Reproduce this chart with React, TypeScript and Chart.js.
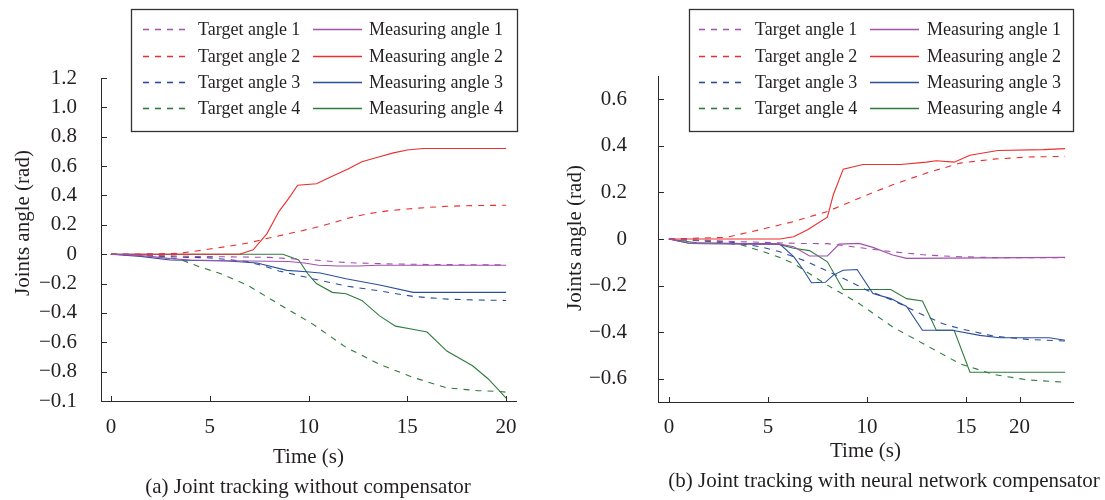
import React, { useEffect, useRef } from 'react';
import { Chart, registerables } from 'chart.js';

Chart.register(...registerables);

const SERIF = '"Liberation Serif", "Times New Roman", Times, serif';
const TEXT = '#231f20';
const AXIS = '#2a2a2a';

const PURPLE = '#a24fae';
const RED = '#ec2d2d';
const BLUE = '#2b4e9c';
const GREEN = '#2f7b3c';

const LEGEND_LABELS = [
  'Target angle 1', 'Measuring angle 1',
  'Target angle 2', 'Measuring angle 2',
  'Target angle 3', 'Measuring angle 3',
  'Target angle 4', 'Measuring angle 4',
];

// ---------- (a) Joint tracking without compensator ----------
const aXTicks = [0, 5, 10, 15, 20];
const aXTickLabels = ['0', '5', '10', '15', '20'];
const aYTicks = [-1, -0.8, -0.6, -0.4, -0.2, 0, 0.2, 0.4, 0.6, 0.8, 1.0, 1.2];
const aYTickLabels = ['\u22120.1', '\u22120.8', '\u22120.6', '\u22120.4', '\u22120.2', '0', '0.2', '0.4', '0.6', '0.8', '1.0', '1.2'];

const aTarget1Time = [0, 2, 4, 6, 8, 9, 10, 12, 14, 16, 18, 20];
const aTarget1Angle = [0, -0.008, -0.015, -0.018, -0.022, -0.03, -0.036, -0.058, -0.066, -0.07, -0.072, -0.073];
const aMeasure1Time = [0, 1, 2, 3, 4, 6, 8, 9, 9.8, 10.5, 11.5, 12.5, 13.5, 20];
const aMeasure1Angle = [0, -0.005, -0.015, -0.03, -0.04, -0.045, -0.048, -0.05, -0.06, -0.075, -0.08, -0.08, -0.075, -0.075];

const aTarget2Time = [0, 2, 3.5, 5, 6, 7, 8, 9, 10, 11, 12, 13, 14, 15, 16, 17, 18, 19, 20];
const aTarget2Angle = [0, 0.002, 0.006, 0.035, 0.055, 0.078, 0.11, 0.14, 0.17, 0.205, 0.245, 0.275, 0.295, 0.308, 0.318, 0.326, 0.33, 0.332, 0.333];
const aMeasure2Time = [0, 3, 6.5, 7.2, 7.9, 8.5, 9.0, 9.45, 10.4, 11.2, 12.0, 12.7, 13.5, 14.3, 15.0, 15.8, 20];
const aMeasure2Angle = [0, 0, 0, 0.03, 0.14, 0.29, 0.38, 0.47, 0.48, 0.53, 0.58, 0.63, 0.66, 0.69, 0.71, 0.72, 0.72];

const aTarget3Time = [0, 2, 3.5, 5, 6.9, 7.9, 8.5, 10.2, 11.9, 13.6, 15.3, 17, 18.5, 20];
const aTarget3Angle = [0, -0.01, -0.02, -0.025, -0.05, -0.087, -0.114, -0.167, -0.217, -0.25, -0.288, -0.306, -0.312, -0.315];
const aMeasure3Time = [0, 1.5, 3, 5.9, 7.4, 8.9, 9.9, 10.6, 11.9, 13.6, 15.3, 20];
const aMeasure3Angle = [0, -0.015, -0.04, -0.046, -0.06, -0.11, -0.12, -0.128, -0.167, -0.21, -0.26, -0.26];

const aTarget4Time = [0, 2, 3.5, 4.5, 5.5, 6.9, 8.5, 10.2, 11.9, 13.6, 15.3, 17, 18.6, 19.7, 20];
const aTarget4Angle = [0, -0.005, -0.035, -0.087, -0.13, -0.21, -0.34, -0.475, -0.635, -0.75, -0.84, -0.91, -0.93, -0.935, -0.94];
const aMeasure4Time = [0, 8.7, 9.5, 10, 10.4, 11.2, 11.9, 12.7, 13.6, 14.4, 15.2, 16, 17, 18.3, 19.1, 20];
const aMeasure4Angle = [0, 0, -0.04, -0.14, -0.2, -0.26, -0.27, -0.315, -0.42, -0.49, -0.51, -0.53, -0.66, -0.76, -0.85, -0.98];

// ---------- (b) Joint tracking with neural network compensator ----------
const bXTicks = [0, 5, 10, 15, 17.7];
const bXTickLabels = ['0', '5', '10', '15', '20'];
const bYTicks = [-0.6, -0.4, -0.2, 0, 0.2, 0.4, 0.6];
const bYTickLabels = ['\u22120.6', '\u22120.4', '\u22120.2', '0', '0.2', '0.4', '0.6'];

const bTarget1Time = [0, 3, 6.6, 8, 9.6, 11.3, 13, 14.7, 16.4, 20];
const bTarget1Angle = [0, -0.01, -0.019, -0.02, -0.037, -0.055, -0.069, -0.076, -0.08, -0.08];
const bMeasure1Time = [0, 1.06, 5.6, 6.3, 7.1, 8, 8.6, 9.6, 10.3, 11.3, 12, 20];
const bMeasure1Angle = [0, -0.019, -0.022, -0.033, -0.073, -0.073, -0.022, -0.019, -0.036, -0.069, -0.083, -0.079];

const bTarget2Time = [0, 2.9, 4.6, 6.3, 8, 9.6, 11.3, 13, 14.7, 16.4, 18.1, 20];
const bTarget2Angle = [0, 0.007, 0.04, 0.075, 0.118, 0.175, 0.233, 0.283, 0.326, 0.343, 0.352, 0.355];
const bMeasure2Time = [0, 5.6, 6.3, 7, 8, 8.3, 8.8, 9.8, 11.7, 13, 13.5, 14.4, 15.2, 16.6, 18.9, 20];
const bMeasure2Angle = [0, 0, 0.01, 0.04, 0.094, 0.19, 0.3, 0.32, 0.32, 0.33, 0.336, 0.33, 0.36, 0.38, 0.384, 0.388];

const bTarget3Time = [0, 3, 4.6, 5.6, 7, 7.6, 9, 10, 11.3, 12.5, 13.8, 14.7, 16.4, 18.1, 20];
const bTarget3Angle = [0, -0.012, -0.033, -0.055, -0.098, -0.122, -0.177, -0.22, -0.263, -0.313, -0.363, -0.385, -0.417, -0.431, -0.438];
const bMeasure3Time = [0, 1.06, 5.6, 6.3, 6.8, 7.2, 7.9, 8.3, 8.8, 9.5, 10.3, 11.2, 12, 12.8, 14.3, 15.7, 16.7, 19.2, 20];
const bMeasure3Angle = [0, -0.019, -0.022, -0.076, -0.134, -0.188, -0.186, -0.155, -0.134, -0.131, -0.234, -0.256, -0.29, -0.392, -0.392, -0.414, -0.424, -0.424, -0.435];

const bTarget4Time = [0, 2, 3.7, 4.6, 5.5, 6.3, 8, 9.6, 11.3, 13, 14.7, 16.4, 18.1, 20];
const bTarget4Angle = [0, -0.01, -0.026, -0.05, -0.076, -0.105, -0.198, -0.277, -0.378, -0.457, -0.536, -0.582, -0.605, -0.615];
const bMeasure4Time = [0, 1.4, 5.5, 6.3, 7.1, 8, 8.8, 11.2, 12, 12.8, 13.5, 14.4, 15.2, 20];
const bMeasure4Angle = [0, -0.016, -0.022, -0.04, -0.05, -0.098, -0.217, -0.217, -0.256, -0.266, -0.392, -0.392, -0.572, -0.572];

type Series = { t: number[]; v: number[] };
const COLORS = [PURPLE, PURPLE, RED, RED, BLUE, BLUE, GREEN, GREEN];

const seriesA: Series[] = [
  { t: aTarget1Time, v: aTarget1Angle }, { t: aMeasure1Time, v: aMeasure1Angle },
  { t: aTarget2Time, v: aTarget2Angle }, { t: aMeasure2Time, v: aMeasure2Angle },
  { t: aTarget3Time, v: aTarget3Angle }, { t: aMeasure3Time, v: aMeasure3Angle },
  { t: aTarget4Time, v: aTarget4Angle }, { t: aMeasure4Time, v: aMeasure4Angle },
];
const seriesB: Series[] = [
  { t: bTarget1Time, v: bTarget1Angle }, { t: bMeasure1Time, v: bMeasure1Angle },
  { t: bTarget2Time, v: bTarget2Angle }, { t: bMeasure2Time, v: bMeasure2Angle },
  { t: bTarget3Time, v: bTarget3Angle }, { t: bMeasure3Time, v: bMeasure3Angle },
  { t: bTarget4Time, v: bTarget4Angle }, { t: bMeasure4Time, v: bMeasure4Angle },
];

const DASH = [6, 6];

type Cfg = {
  canvasLeft: number;
  canvasWidth: number;
  area: { left: number; top: number; right: number; bottom: number };
  xRange: [number, number];
  yRange: [number, number];
  xTicks: number[];
  xTickLabels: string[];
  yTicks: number[];
  yTickLabels: string[];
  xLabelPad: number;
  yLabelPad: number;
  xTitlePad: number;
  series: Series[];
  legend: { left: number; top: number; width: number; height: number; t0: number; t1: number; tText: number; m0: number; m1: number; mText: number; row0: number; rowGap: number };
  yTitle: { x: number; y: number };
  caption: { text: string; x: number; y: number };
};

function JointChart({ cfg }: { cfg: Cfg }) {
  const ref = useRef<HTMLCanvasElement>(null);
  useEffect(() => {
    const canvas = ref.current!;
    const H = 500;
    const decor = {
      id: 'decor',
      afterDraw(chart: any) {
        const ctx = chart.ctx as CanvasRenderingContext2D;
        const xs = chart.scales.x;
        const ys = chart.scales.y;
        // inward tick marks
        ctx.save();
        ctx.strokeStyle = AXIS;
        ctx.lineWidth = 1;
        ctx.beginPath();
        xs.ticks.forEach((tk: any) => {
          const px = Math.round(xs.getPixelForValue(tk.value)) + 0.5;
          ctx.moveTo(px, xs.top);
          ctx.lineTo(px, xs.top - 5);
        });
        ys.ticks.forEach((tk: any) => {
          const py = Math.round(ys.getPixelForValue(tk.value)) + 0.5;
          ctx.moveTo(ys.right, py);
          ctx.lineTo(ys.right + 6, py);
        });
        ctx.stroke();
        ctx.restore();

        // y axis title
        ctx.save();
        ctx.fillStyle = TEXT;
        ctx.font = `21px ${SERIF}`;
        ctx.textAlign = 'center';
        ctx.textBaseline = 'middle';
        ctx.translate(cfg.yTitle.x, cfg.yTitle.y);
        ctx.rotate(-Math.PI / 2);
        ctx.fillText('Joints angle (rad)', 0, 0);
        ctx.restore();

        // caption
        ctx.save();
        ctx.fillStyle = TEXT;
        ctx.font = `21px ${SERIF}`;
        ctx.textAlign = 'center';
        ctx.textBaseline = 'middle';
        ctx.fillText(cfg.caption.text, cfg.caption.x, cfg.caption.y);
        ctx.restore();

        // legend box
        const L = cfg.legend;
        ctx.save();
        ctx.fillStyle = '#ffffff';
        ctx.fillRect(L.left, L.top, L.width, L.height);
        ctx.strokeStyle = '#333333';
        ctx.lineWidth = 1.3;
        ctx.strokeRect(L.left + 0.5, L.top + 0.5, L.width, L.height);
        ctx.font = `18px ${SERIF}`;
        ctx.textBaseline = 'middle';
        ctx.textAlign = 'left';
        const ds = chart.data.datasets;
        for (let r = 0; r < 4; r++) {
          const y = Math.round(L.top + L.row0 + r * L.rowGap) + 0.5;
          const tgt = ds[2 * r];
          const mea = ds[2 * r + 1];
          ctx.lineWidth = 1.6;
          ctx.strokeStyle = tgt.borderColor;
          ctx.setLineDash(DASH);
          ctx.beginPath();
          ctx.moveTo(L.left + L.t0, y);
          ctx.lineTo(L.left + L.t1, y);
          ctx.stroke();
          ctx.setLineDash([]);
          ctx.strokeStyle = mea.borderColor;
          ctx.beginPath();
          ctx.moveTo(L.left + L.m0, y);
          ctx.lineTo(L.left + L.m1, y);
          ctx.stroke();
          ctx.fillStyle = TEXT;
          ctx.fillText(tgt.label, L.left + L.tText, y + 1);
          ctx.fillText(mea.label, L.left + L.mText, y + 1);
        }
        ctx.restore();
      },
    };

    const datasets = cfg.series.map((s, i) => ({
      label: LEGEND_LABELS[i],
      data: s.t.map((t, j) => ({ x: t, y: s.v[j] })),
      borderColor: COLORS[i],
      backgroundColor: COLORS[i],
      borderWidth: 1.1,
      borderDash: i % 2 === 0 ? DASH : [],
      pointRadius: 0,
      tension: 0,
      fill: false,
    }));

    const tickFont = { family: SERIF, size: 21 };
    const chart = new Chart(canvas, {
      type: 'line',
      data: { datasets },
      options: {
        responsive: false,
        animation: false,
        devicePixelRatio: 1,
        layout: { padding: { left: 0, top: cfg.area.top, right: cfg.canvasWidth - cfg.area.right, bottom: 0 } },
        plugins: { legend: { display: false }, tooltip: { enabled: false } },
        scales: {
          x: {
            type: 'linear',
            min: cfg.xRange[0],
            max: cfg.xRange[1],
            afterFit: (s: any) => { s.height = H - cfg.area.bottom; },
            afterBuildTicks: (s: any) => { s.ticks = cfg.xTicks.map((v) => ({ value: v })); },
            ticks: {
              callback: (_v: any, i: number) => cfg.xTickLabels[i],
              font: tickFont,
              color: TEXT,
              padding: cfg.xLabelPad,
              maxRotation: 0,
              autoSkip: false,
            },
            grid: { display: false },
            border: { display: true, color: AXIS, width: 1 },
            title: { display: true, text: 'Time (s)', font: tickFont, color: TEXT, padding: { top: 0, bottom: cfg.xTitlePad } },
          },
          y: {
            type: 'linear',
            min: cfg.yRange[0],
            max: cfg.yRange[1],
            afterFit: (s: any) => { s.width = cfg.area.left; },
            afterBuildTicks: (s: any) => { s.ticks = cfg.yTicks.map((v) => ({ value: v })); },
            ticks: {
              callback: (_v: any, i: number) => cfg.yTickLabels[i],
              font: tickFont,
              color: TEXT,
              padding: cfg.yLabelPad,
              autoSkip: false,
            },
            grid: { display: false },
            border: { display: true, color: AXIS, width: 1 },
          },
        },
      } as any,
      plugins: [decor],
    });
    return () => chart.destroy();
  }, [cfg]);
  return (
    <canvas
      ref={ref}
      width={cfg.canvasWidth}
      height={500}
      style={{ position: 'absolute', left: cfg.canvasLeft, top: 0 }}
    />
  );
}

const cfgA: Cfg = {
  canvasLeft: 0,
  canvasWidth: 560,
  area: { left: 101, top: 78, right: 516, bottom: 401 },
  xRange: [-0.5, 20.5],
  yRange: [-1.0, 1.2],
  xTicks: aXTicks,
  xTickLabels: aXTickLabels,
  yTicks: aYTicks,
  yTickLabels: aYTickLabels,
  xLabelPad: 6,
  yLabelPad: 16,
  xTitlePad: 30,
  series: seriesA,
  legend: { left: 131, top: 9, width: 386, height: 122, t0: 12, t1: 59, tText: 67, m0: 182, m1: 231, mText: 238, row0: 20.3, rowGap: 26.3 },
  yTitle: { x: 23, y: 223 },
  caption: { text: '(a) Joint tracking without compensator', x: 308, y: 487 },
};

const cfgB: Cfg = {
  canvasLeft: 560,
  canvasWidth: 545,
  area: { left: 98, top: 76, right: 513, bottom: 402 },
  xRange: [-0.55, 20.4],
  yRange: [-0.7, 0.7],
  xTicks: bXTicks,
  xTickLabels: bXTickLabels,
  yTicks: bYTicks,
  yTickLabels: bYTickLabels,
  xLabelPad: 5,
  yLabelPad: 23,
  xTitlePad: 36,
  series: seriesB,
  legend: { left: 129, top: 9, width: 384, height: 122, t0: 10, t1: 58, tText: 66, m0: 181, m1: 230, mText: 238, row0: 20.3, rowGap: 26.3 },
  yTitle: { x: 15, y: 238 },
  caption: { text: '(b) Joint tracking with neural network compensator', x: 324, y: 481 },
};

export default function App() {
  return (
    <div style={{ position: 'absolute', left: 0, top: 0, width: 1105, height: 500, background: '#ffffff', overflow: 'hidden' }}>
      <JointChart cfg={cfgA} />
      <JointChart cfg={cfgB} />
    </div>
  );
}
